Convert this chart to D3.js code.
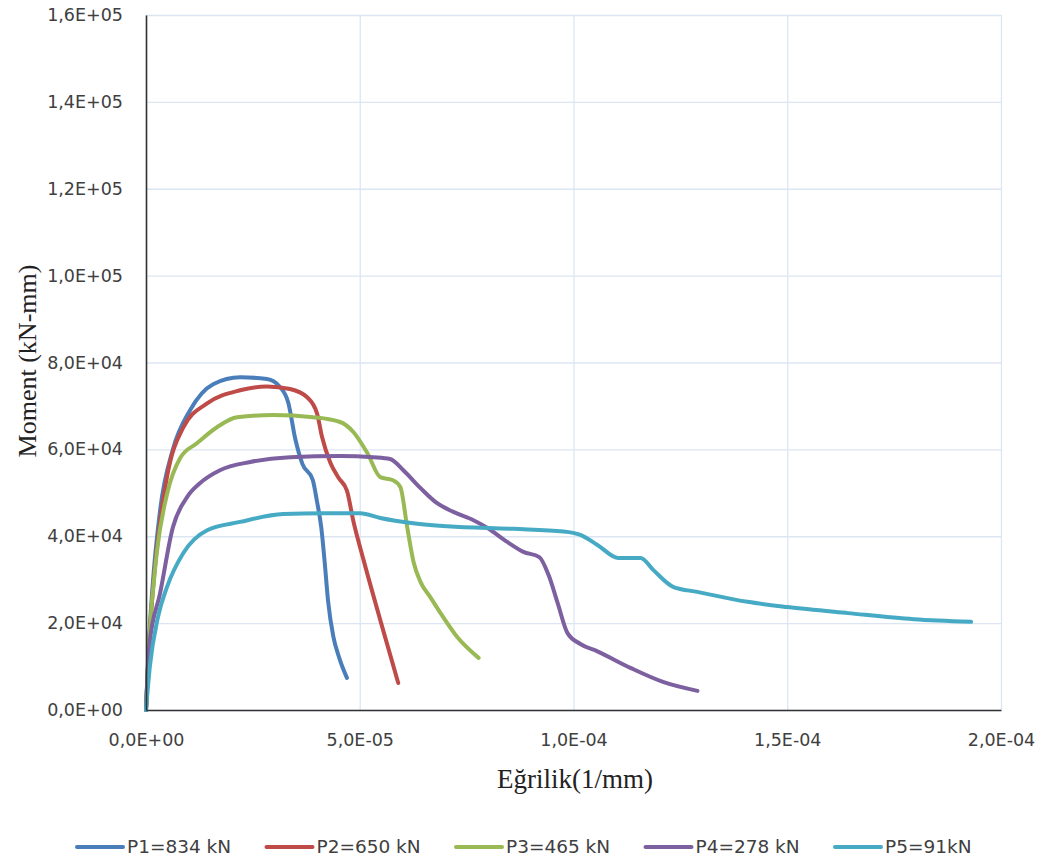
<!DOCTYPE html>
<html>
<head>
<meta charset="utf-8">
<script src="https://cdn.jsdelivr.net/npm/d3@7"></script>
<style>
  html, body { margin: 0; padding: 0; background: #fff; }
  .tick-label { font-family: "DejaVu Sans", sans-serif; font-size: 17.5px; fill: #404040; }
  .axis-title { font-family: "Liberation Serif", "Times New Roman", serif; fill: #222; }
  .legend-label { font-family: "DejaVu Sans", sans-serif; font-size: 18.5px; fill: #404040; }
</style>
</head>
<body>
<div id="chart"></div>
<script>
// curvature in 1E-05 1/mm, moment in 1E+04 kN-mm
const seriesNames = ['P1=834 kN', 'P2=650 kN', 'P3=465 kN', 'P4=278 kN', 'P5=91kN'];
const seriesColors = ['#4a7ebb', '#be4b48', '#98b954', '#7d60a0', '#46aac5'];

const p1Curv = [0, 0.05, 0.15, 0.33, 0.63, 1.03, 1.57, 2.2, 2.83, 3.14, 3.33, 3.49, 3.66, 3.9, 4.0, 4.1, 4.18, 4.26, 4.38, 4.52, 4.7];
const p1Mom  = [0, 1.2, 2.8, 4.6, 6.0, 6.9, 7.5, 7.66, 7.62, 7.43, 7.07, 6.25, 5.66, 5.3, 4.8, 4.2, 3.4, 2.5, 1.7, 1.2, 0.74];

const p2Curv = [0, 0.06, 0.2, 0.49, 0.87, 1.43, 2.2, 2.83, 3.37, 3.77, 4.0, 4.12, 4.31, 4.5, 4.7, 4.85, 5.09, 5.48, 5.9];
const p2Mom  = [0, 1.3, 3.2, 5.36, 6.5, 7.06, 7.36, 7.45, 7.39, 7.2, 6.83, 6.28, 5.7, 5.35, 5.05, 4.35, 3.45, 2.07, 0.62];

const p3Curv = [0, 0.07, 0.25, 0.5, 0.8, 1.19, 1.66, 2.13, 2.97, 3.91, 4.54, 4.85, 5.18, 5.48, 5.78, 5.95, 6.11, 6.26, 6.42, 6.65, 6.89, 7.28, 7.78];
const p3Mom  = [0, 1.5, 3.6, 5.0, 5.8, 6.14, 6.51, 6.74, 6.79, 6.74, 6.63, 6.4, 5.91, 5.36, 5.29, 5.13, 4.21, 3.4, 2.95, 2.6, 2.23, 1.68, 1.2];

const p4Curv = [0, 0.08, 0.33, 0.63, 0.96, 1.26, 1.73, 2.44, 3.37, 4.54, 5.32, 5.71, 6.02, 6.42, 6.81, 7.19, 7.66, 7.99, 8.45, 8.83, 9.2, 9.42, 9.63, 9.86, 10.16, 10.56, 11.33, 12.11, 12.9];
const p4Mom  = [0, 1.5, 2.69, 4.21, 4.9, 5.22, 5.52, 5.71, 5.82, 5.85, 5.82, 5.78, 5.52, 5.11, 4.76, 4.56, 4.37, 4.19, 3.87, 3.64, 3.52, 3.1, 2.46, 1.77, 1.52, 1.35, 0.97, 0.64, 0.44];

const p5Curv = [0, 0.09, 0.28, 0.49, 0.87, 1.43, 2.2, 3.21, 4.15, 5.01, 5.48, 6.25, 7.05, 8.59, 9.77, 10.16, 10.56, 11.05, 11.57, 11.87, 12.34, 12.9, 14.07, 15.01, 16.42, 17.96, 19.3];
const p5Mom  = [0, 1.0, 2.14, 2.83, 3.61, 4.14, 4.33, 4.51, 4.53, 4.53, 4.42, 4.3, 4.23, 4.17, 4.11, 4.03, 3.8, 3.5, 3.5, 3.22, 2.83, 2.72, 2.49, 2.37, 2.23, 2.09, 2.03];

const xTicks = [0, 5e-5, 1e-4, 1.5e-4, 2e-4];
const yTicks = [0, 2e4, 4e4, 6e4, 8e4, 1e5, 1.2e5, 1.4e5, 1.6e5];

const xUnit = 1e-5, yUnit = 1e4;
const curvs = [p1Curv, p2Curv, p3Curv, p4Curv, p5Curv];
const moms = [p1Mom, p2Mom, p3Mom, p4Mom, p5Mom];
const series = seriesNames.map((name, i) => ({
    name,
    color: seriesColors[i],
    values: curvs[i].map((c, j) => ({ x: c * xUnit, y: moms[i][j] * yUnit }))
}));

function sciComma(v) {
    if (v === 0) return '0,0E+00';
    const e = Math.floor(Math.log10(Math.abs(v)) + 1e-9);
    const m = v / Math.pow(10, e);
    const sign = e < 0 ? '-' : '+';
    return m.toFixed(1).replace('.', ',') + 'E' + sign + String(Math.abs(e)).padStart(2, '0');
}

const width = 1051, height = 863;
const margin = { top: 15, right: 50, bottom: 153, left: 146 };
const innerW = 1001 - margin.left;
const innerH = 710 - margin.top;

const svg = d3.select('#chart').append('svg')
    .attr('width', width)
    .attr('height', height);

const g = svg.append('g')
    .attr('transform', `translate(${margin.left},${margin.top})`);

const xScale = d3.scaleLinear().domain([0, 2e-4]).range([0, innerW]);
const yScale = d3.scaleLinear().domain([0, 1.6e5]).range([innerH, 0]);

// Grid lines
g.append('g')
    .attr('class', 'grid-x')
    .call(d3.axisBottom(xScale).tickValues(xTicks).tickSize(innerH).tickFormat(''))
    .call(sel => sel.select('.domain').remove())
    .selectAll('line')
    .attr('stroke', '#dce6f2')
    .attr('stroke-width', 1.3);

g.append('g')
    .attr('class', 'grid-y')
    .call(d3.axisRight(yScale).tickValues(yTicks).tickSize(innerW).tickFormat(''))
    .call(sel => sel.select('.domain').remove())
    .selectAll('line')
    .attr('stroke', '#dce6f2')
    .attr('stroke-width', 1.3);

// Series
const line = d3.line()
    .x(d => xScale(d.x))
    .y(d => yScale(d.y))
    .curve(d3.curveMonotoneX);

g.selectAll('.series')
    .data(series)
    .enter()
    .append('path')
    .attr('class', 'series')
    .attr('fill', 'none')
    .attr('stroke', d => d.color)
    .attr('stroke-width', 4)
    .attr('stroke-linejoin', 'round')
    .attr('stroke-linecap', 'round')
    .attr('d', d => line(d.values));

// Axes
const xAxis = g.append('g')
    .attr('transform', `translate(0,${innerH})`)
    .call(d3.axisBottom(xScale).tickValues(xTicks).tickSize(0).tickPadding(24).tickFormat(sciComma));
xAxis.select('.domain').attr('stroke', '#333').attr('stroke-width', 1.6);
xAxis.selectAll('text').attr('class', 'tick-label').attr('fill', null);

const yAxis = g.append('g')
    .call(d3.axisLeft(yScale).tickValues(yTicks).tickSize(0).tickPadding(23).tickFormat(sciComma));
yAxis.select('.domain').attr('stroke', '#333').attr('stroke-width', 1.6);
yAxis.selectAll('text').attr('class', 'tick-label').attr('fill', null);

// Axis titles
g.append('text')
    .attr('class', 'axis-title')
    .attr('x', 575 - margin.left)
    .attr('y', 788 - margin.top)
    .attr('text-anchor', 'middle')
    .style('font-size', '27px')
    .text('Eğrilik(1/mm)');

g.append('text')
    .attr('class', 'axis-title')
    .attr('transform', 'rotate(-90)')
    .attr('x', -(361 - margin.top))
    .attr('y', 36 - margin.left)
    .attr('text-anchor', 'middle')
    .style('font-size', '26px')
    .text('Moment (kN-mm)');

// Legend
const legend = svg.append('g')
    .attr('transform', 'translate(77,847)');

const items = legend.selectAll('.legend-item')
    .data(series)
    .enter()
    .append('g')
    .attr('class', 'legend-item')
    .attr('transform', (d, i) => `translate(${i * 189.5},0)`);

items.append('line')
    .attr('x1', 0).attr('x2', 46)
    .attr('y1', 0).attr('y2', 0)
    .attr('stroke', d => d.color)
    .attr('stroke-width', 4)
    .attr('stroke-linecap', 'round');

items.append('text')
    .attr('class', 'legend-label')
    .attr('x', 50)
    .attr('y', 0)
    .attr('dy', '0.35em')
    .text(d => d.name);
</script>
</body>
</html>
